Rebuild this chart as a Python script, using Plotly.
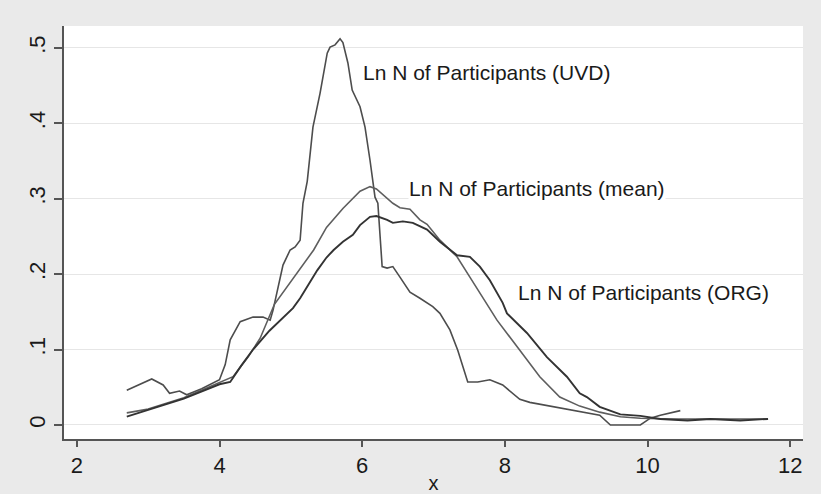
import plotly.graph_objects as go

# Ln N of Participants (UVD)
uvd_x = [2.70, 3.05, 3.21, 3.30, 3.44, 3.54, 3.75, 4.00, 4.08, 4.15, 4.29, 4.47, 4.61, 4.71,
         4.75, 4.89, 4.99, 5.06, 5.13, 5.17, 5.23, 5.31, 5.41, 5.51, 5.55, 5.62, 5.69, 5.73,
         5.80, 5.86, 5.97, 6.04, 6.11, 6.18, 6.22, 6.28, 6.35, 6.43, 6.53, 6.67, 6.81, 6.99,
         7.09, 7.23, 7.34, 7.41, 7.48, 7.62, 7.79, 7.97, 8.21, 8.35, 8.63, 8.91, 9.33, 9.48,
         9.90, 10.04, 10.18, 10.46]
uvd_y = [0.046, 0.061, 0.053, 0.042, 0.045, 0.040, 0.048, 0.060, 0.080, 0.113, 0.137, 0.143,
         0.143, 0.139, 0.152, 0.212, 0.232, 0.236, 0.245, 0.294, 0.323, 0.395, 0.440, 0.493,
         0.501, 0.504, 0.512, 0.507, 0.480, 0.444, 0.422, 0.395, 0.351, 0.302, 0.294, 0.210,
         0.208, 0.210, 0.196, 0.176, 0.168, 0.157, 0.148, 0.126, 0.099, 0.077, 0.057, 0.057,
         0.060, 0.053, 0.034, 0.030, 0.025, 0.021, 0.013, 0.000, 0.000, 0.009, 0.013, 0.019]

# Ln N of Participants (mean)
mean_x = [2.70, 3.00, 3.50, 4.00, 4.19, 4.40, 4.57, 4.77, 5.08, 5.32, 5.50, 5.73, 5.97, 6.11,
          6.20, 6.30, 6.43, 6.53, 6.67, 6.81, 6.91, 7.09, 7.33, 7.51, 7.70, 7.89, 8.21, 8.49,
          8.77, 9.05, 9.33, 9.62, 9.90, 10.30, 10.80, 11.30, 11.69]
mean_y = [0.016, 0.021, 0.036, 0.056, 0.064, 0.090, 0.115, 0.160, 0.201, 0.232, 0.262, 0.287,
          0.310, 0.316, 0.313, 0.305, 0.294, 0.288, 0.286, 0.272, 0.266, 0.245, 0.223, 0.196,
          0.168, 0.139, 0.099, 0.064, 0.037, 0.025, 0.017, 0.011, 0.009, 0.008, 0.008, 0.008,
          0.008]

# Ln N of Participants (ORG)
org_x = [2.70, 3.00, 3.50, 4.00, 4.15, 4.30, 4.47, 4.70, 4.89, 5.03, 5.13, 5.27, 5.37, 5.50,
         5.60, 5.73, 5.87, 5.97, 6.11, 6.20, 6.35, 6.43, 6.57, 6.71, 6.91, 7.09, 7.33, 7.51,
         7.65, 7.79, 7.97, 8.03, 8.31, 8.59, 8.87, 9.05, 9.15, 9.33, 9.62, 9.90, 10.18, 10.56,
         10.88, 11.30, 11.69]
org_y = [0.011, 0.020, 0.035, 0.054, 0.057, 0.078, 0.100, 0.125, 0.143, 0.155, 0.168, 0.190,
         0.205, 0.222, 0.232, 0.243, 0.252, 0.265, 0.276, 0.277, 0.272, 0.268, 0.270, 0.268,
         0.259, 0.243, 0.225, 0.223, 0.210, 0.192, 0.162, 0.148, 0.122, 0.090, 0.064, 0.042,
         0.037, 0.024, 0.014, 0.012, 0.008, 0.006, 0.008, 0.006, 0.008]

x_ticks = [2, 4, 6, 8, 10, 12]
y_ticks = [0, 0.1, 0.2, 0.3, 0.4, 0.5]
y_tick_labels = ['0', '.1', '.2', '.3', '.4', '.5']

labels = ['Ln N of Participants (UVD)', 'Ln N of Participants (mean)',
          'Ln N of Participants (ORG)']
label_x = [6.0, 6.64, 8.17]
label_y = [0.467, 0.314, 0.175]

fig = go.Figure()
fig.add_trace(go.Scatter(x=uvd_x, y=uvd_y, mode='lines',
                         line=dict(color='#4d4d4d', width=1.6), name=labels[0]))
fig.add_trace(go.Scatter(x=mean_x, y=mean_y, mode='lines',
                         line=dict(color='#5e5e5e', width=1.6), name=labels[1]))
fig.add_trace(go.Scatter(x=org_x, y=org_y, mode='lines',
                         line=dict(color='#333333', width=1.9), name=labels[2]))

# texte à côté des courbes, fond blanc comme dans Stata
for txt, lx, ly in zip(labels, label_x, label_y):
    fig.add_annotation(x=lx, y=ly, text=txt, showarrow=False,
                       xanchor='left', yanchor='middle',
                       bgcolor='white', borderpad=0,
                       font=dict(family='Liberation Sans, Arial', size=21, color='#1a1a1a'))

fig.update_xaxes(
    range=[1.82, 12.18], tickvals=x_ticks, automargin=False,
    showgrid=False, zeroline=False,
    showline=True, linecolor='#555555', linewidth=1.5,
    ticks='outside', ticklen=6, tickcolor='#555555', tickwidth=1.5,
    tickfont=dict(family='Liberation Sans, Arial', size=22, color='#1a1a1a'),
    title=dict(text='x', standoff=2,
               font=dict(family='Liberation Sans, Arial', size=20, color='#1a1a1a')),
)
fig.update_yaxes(
    range=[-0.0186, 0.529], tickvals=y_ticks, ticktext=y_tick_labels,
    tickangle=-90, automargin=False,
    showgrid=True, gridcolor='#e6e6e6', gridwidth=1.2, zeroline=False,
    showline=True, linecolor='#555555', linewidth=1.5,
    ticks='outside', ticklen=8, tickcolor='#555555', tickwidth=1.5,
    tickfont=dict(family='Liberation Sans, Arial', size=22, color='#1a1a1a'),
)

fig.update_layout(
    width=821, height=494,
    margin=dict(l=64, r=18, t=26, b=55),
    paper_bgcolor='#eaeaea', plot_bgcolor='white',
    showlegend=False,
)

# enlever la marge du body pour que la figure remplisse la fenêtre
fig.write_html("out.html", config={'displayModeBar': False},
               post_script="document.body.style.margin='0';")
